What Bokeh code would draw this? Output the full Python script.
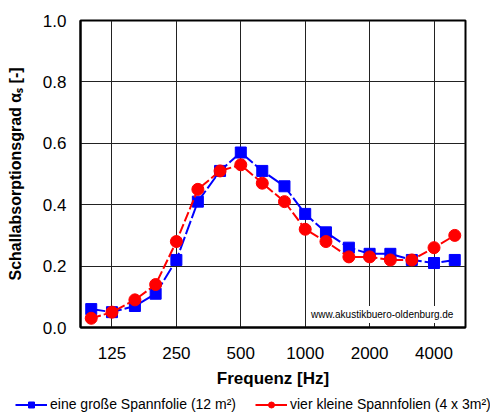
from bokeh.plotting import figure
from bokeh.layouts import column
from bokeh.models import (FixedTicker, PrintfTickFormatter, Legend, LegendItem,
                          Label, Range1d)
from bokeh.embed import file_html
from bokeh.resources import INLINE

# Data (third-octave band centre frequencies, Hz)
freqs = [100, 125, 160, 200, 250, 315, 400, 500, 630, 800, 1000, 1250,
         1600, 2000, 2500, 3150, 4000, 5000]
gross = [0.06, 0.05, 0.07, 0.11, 0.22, 0.41, 0.51, 0.57, 0.51, 0.46, 0.37,
         0.31, 0.26, 0.24, 0.24, 0.22, 0.21, 0.22]
klein = [0.03, 0.05, 0.09, 0.14, 0.28, 0.45, 0.51, 0.53, 0.47, 0.41, 0.32,
         0.28, 0.23, 0.23, 0.22, 0.22, 0.26, 0.30]
x_ticks = [125, 250, 500, 1000, 2000, 4000]
x_tick_labels = ["125", "250", "500", "1000", "2000", "4000"]
y_ticks = [0.0, 0.2, 0.4, 0.6, 0.8, 1.0]
label_gross = "eine große Spannfolie (12 m²)"
label_klein = "vier kleine Spannfolien (4 x 3m²)"

FONT = "Liberation Sans"
BLUE = "#0000FF"
RED = "#FF0000"

p = figure(width=490, height=391, x_axis_type="log",
           output_backend="svg", toolbar_location=None,
           x_range=Range1d(100 * 2 ** (-1 / 6), 5000 * 2 ** (1 / 6)),
           y_range=Range1d(0, 1),
           min_border_left=80, min_border_right=25,
           min_border_top=20, min_border_bottom=64)
p.background_fill_color = "white"
p.border_fill_color = "white"
p.outline_line_color = "black"
p.outline_line_width = 2

# axes
p.xaxis.ticker = FixedTicker(ticks=x_ticks)
p.xaxis.major_label_overrides = {t: l for t, l in zip(x_ticks, x_tick_labels)}
p.yaxis.ticker = FixedTicker(ticks=y_ticks)
p.yaxis.formatter = PrintfTickFormatter(format="%.1f")
for ax in (p.xaxis[0], p.yaxis[0]):
    ax.major_tick_line_color = None
    ax.minor_tick_line_color = None
    ax.axis_line_color = "black"
    ax.axis_line_width = 2
    ax.major_label_text_font = FONT
    ax.major_label_text_font_size = "17px"
    ax.major_label_text_color = "black"
    ax.axis_label_text_font = FONT
    ax.axis_label_text_font_style = "bold"
    ax.axis_label_text_color = "black"

p.xaxis.axis_label = "Frequenz [Hz]"
p.xaxis.axis_label_text_font_size = "17px"
p.xaxis.major_label_standoff = 13
p.xaxis.axis_label_standoff = 7
p.yaxis.axis_label = "Schallabsorptionsgrad αₛ [-]"
p.yaxis.axis_label_text_font_size = "16px"
p.yaxis.major_label_standoff = 8
p.yaxis.axis_label_standoff = 16

# grid
p.xgrid.ticker = FixedTicker(ticks=x_ticks)
p.ygrid.ticker = FixedTicker(ticks=[0.2, 0.4, 0.6, 0.8])
for g in (p.xgrid[0], p.ygrid[0]):
    g.grid_line_color = "#222222"
    g.grid_line_width = 1
    g.minor_grid_line_color = None

# watermark
wm = Label(x=5090, y=0.042, text="www.akustikbuero-oldenburg.de",
           text_align="right", text_baseline="middle",
           text_font=FONT, text_font_size="10px", text_color="black",
           background_fill_color="white", background_fill_alpha=1.0,
           padding=3)
p.add_layout(wm)

# series
p.line(freqs, gross, line_color=BLUE, line_width=2, line_dash="14 3")
p.scatter(freqs, gross, marker="square", size=11,
          fill_color=BLUE, line_color=BLUE)
p.line(freqs, klein, line_color=RED, line_width=2, line_dash="10 3")
p.scatter(freqs, klein, marker="circle", size=12,
          fill_color=RED, line_color=RED)

# legend strip below the chart (series renderers lie outside its frame,
# only their legend samples are visible)
lf = figure(frame_width=490, frame_height=21, output_backend="svg",
            toolbar_location=None,
            x_range=Range1d(0, 1), y_range=Range1d(0, 1),
            x_axis_location=None, y_axis_location=None,
            min_border=0, min_border_left=0, min_border_right=0,
            min_border_top=0, min_border_bottom=0)
lf.outline_line_color = None
lf.background_fill_color = "white"
lf.border_fill_color = "white"
lf.xgrid.visible = False
lf.ygrid.visible = False
lg1 = lf.line(freqs, gross, line_color=BLUE, line_width=2)
sg1 = lf.scatter(freqs, gross, marker="square", size=7, fill_color=BLUE,
                 line_color=BLUE)
lg2 = lf.line(freqs, klein, line_color=RED, line_width=2)
sg2 = lf.scatter(freqs, klein, marker="circle", size=8, fill_color=RED,
                 line_color=RED)
legend = Legend(items=[LegendItem(label=label_gross, renderers=[lg1, sg1]),
                       LegendItem(label=label_klein, renderers=[lg2, sg2])],
                orientation="horizontal", location=(15, 0),
                label_text_font=FONT, label_text_font_size="14px",
                label_text_color="black", glyph_width=32, glyph_height=15,
                label_height=15, label_standoff=3, spacing=19, padding=0,
                margin=0, border_line_color=None,
                background_fill_alpha=0)
lf.add_layout(legend, "center")

layout = column(p, lf, spacing=0)
open("out.html", "w").write(file_html(layout, INLINE))
